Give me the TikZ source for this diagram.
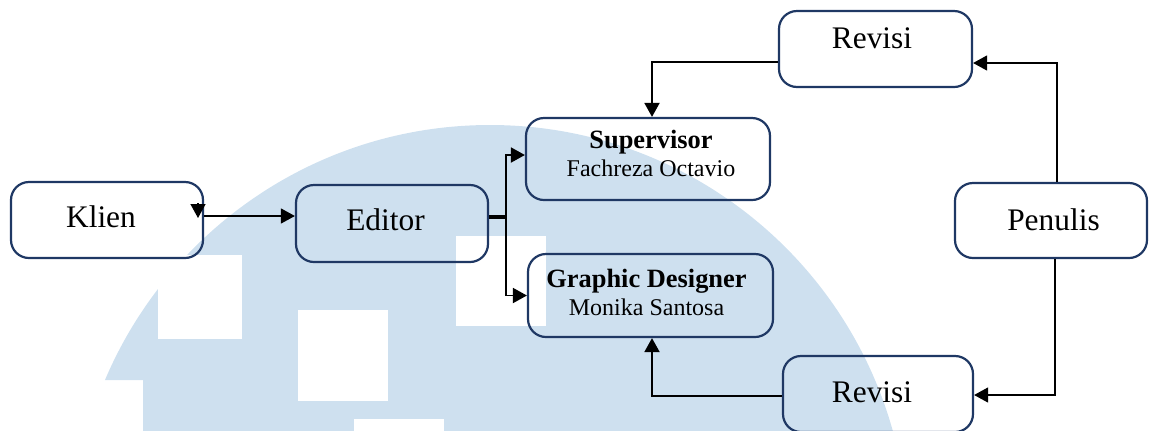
\documentclass[tikz,border=0pt]{standalone}
\usepackage{fontspec}
\setmainfont{Liberation Serif}
\usetikzlibrary{arrows.meta}
\definecolor{wm}{RGB}{206,224,239}
\definecolor{bx}{RGB}{31,56,100}
\newcommand{\bt}[3]{\raisebox{#2}[0pt][0pt]{\makebox[0pt][c]{\hspace*{#1}\hspace*{#1}#3}}}
\newcommand{\bigtxt}{\fontsize{15.7}{18}\selectfont}
\newcommand{\twoline}[2]{\fontsize{12}{14}\selectfont\begin{tabular}[b]{@{}c@{}}\fontsize{13.2}{14}\selectfont\bfseries #1\\ \fontsize{12}{14}\selectfont #2\end{tabular}}
\tikzset{
  box/.style={draw=bx, line width=1.1pt, rounded corners=9pt, inner sep=0pt},
  arr/.style={-{Triangle[length=7pt,width=7.5pt]}},
  thinl/.style={line width=0.65pt},
  medl/.style={line width=0.95pt},
  stubl/.style={line width=1.6pt}
}
\begin{document}
\begin{tikzpicture}[x=0.5pt,y=-0.5pt]
\useasboundingbox (0,0) rectangle (1152,430);
\clip (0,0) rectangle (1152,430);
% watermark
\begin{scope}
  \clip (0,0) rectangle (1152,380) (143,0) rectangle (1152,440);
  \fill[wm] (490,543) circle[radius=209pt];
\end{scope}
\fill[white] (158,255) rectangle (242,339);
\fill[white] (298,310) rectangle (388,401);
\fill[white] (456,236) rectangle (546,326);
\fill[white] (354,419) rectangle (444,440);
% boxes
\node[box, minimum width=96pt, minimum height=38pt] (klien) at (107,220) {\bt{-3pt}{-3.5pt}{\bigtxt Klien}};
\node[box, minimum width=96pt, minimum height=38.5pt] (editor) at (392,223.5) {\bt{-3.25pt}{-3.25pt}{\bigtxt Editor}};
\node[box, minimum width=122pt, minimum height=41pt] (sup) at (648,159) {\bt{1.5pt}{-8.5pt}{\twoline{Supervisor}{Fachreza Octavio}}};
\node[box, minimum width=122.5pt, minimum height=41.5pt] (gd) at (650.5,295.5) {\bt{-2pt}{-9.75pt}{\twoline{Graphic Designer}{Monika Santosa}}};
\node[box, minimum width=96.5pt, minimum height=38pt] (rev1) at (875.5,49) {\bt{-1.75pt}{0.5pt}{\bigtxt Revisi}};
\node[box, minimum width=95pt, minimum height=38pt] (rev2) at (878,394) {\bt{-3pt}{-4pt}{\bigtxt Revisi}};
\node[box, minimum width=96pt, minimum height=37.5pt] (pen) at (1051,220.5) {\bt{1.25pt}{-4.75pt}{\bigtxt Penulis}};
% connectors
\draw[thinl, arr] (klien.east |- 0,216) -- (editor.west |- 0,216);
\coordinate (kt) at (198,203);
\draw[thinl, arr] (kt) -- (kt |- 0,218);
\coordinate (split) at (506,217);
\draw[stubl] (editor.east |- split) -- (split);
\draw[medl, arr] (split) |- (sup.west |- 0,155);
\draw[medl, arr] (split) |- (gd.west);
\draw[medl, arr] (rev1.west |- 0,62) -| (sup.north -| 652,0);
\draw[thinl, arr] (pen.north -| 1057,0) |- (rev1.east |- 0,63);
\draw[thinl, arr] (pen.south -| 1055,0) |- (rev2.east |- 0,395);
\draw[medl, arr] (rev2.west |- 0,396) -| (gd.south -| 652,0);
\end{tikzpicture}
\end{document}
